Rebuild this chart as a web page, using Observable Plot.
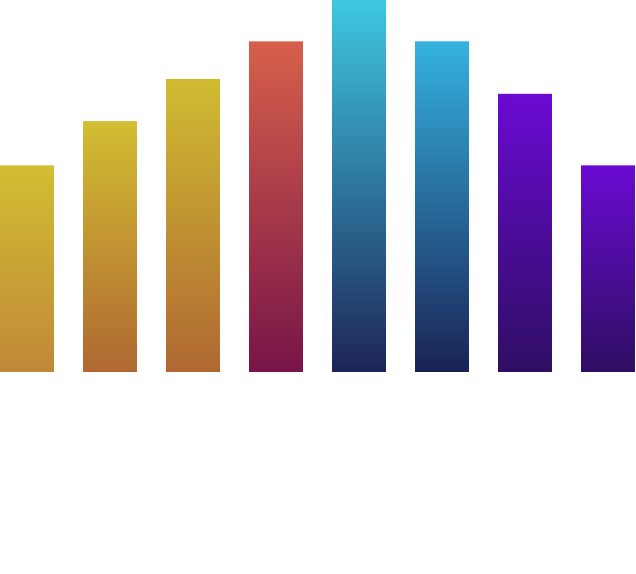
<!DOCTYPE html>
<html>
<head>
<meta charset="utf-8">
<script src="https://cdn.jsdelivr.net/npm/d3@7"></script>
<script src="https://cdn.jsdelivr.net/npm/@observablehq/plot@0.6"></script>
<style>
  html, body { margin: 0; padding: 0; background: #fff; }
</style>
</head>
<body>
<div id="chart"></div>
<script>
const categories = ["A", "B", "C", "D", "E", "F", "G", "H"];
const values = [5, 6.07, 7.09, 8, 9, 8, 6.73, 5];
const topColors = ["#d2be32", "#d2be32", "#d0bc32", "#d6604a", "#3ec8e0", "#34b2e0", "#6a0ad2", "#6a0ad2"];
const bottomColors = ["#c08838", "#b06832", "#b06832", "#781448", "#1e2458", "#1a2254", "#2e0e62", "#2e0e62"];

const data = categories.map((c, i) => ({cat: c, value: values[i], idx: i}));

function gradientDefs() {
  const defs = d3.create("svg:defs");
  categories.forEach((c, i) => {
    const g = defs.append("linearGradient")
      .attr("id", "grad" + i)
      .attr("x1", 0).attr("y1", 0).attr("x2", 0).attr("y2", 1);
    g.append("stop").attr("offset", "0%").attr("stop-color", topColors[i]);
    g.append("stop").attr("offset", "100%").attr("stop-color", bottomColors[i]);
  });
  return defs.node();
}

const chart = Plot.plot({
  width: 636,
  height: 372,
  marginTop: 0,
  marginRight: 0,
  marginBottom: 0,
  marginLeft: 0,
  x: {domain: categories, range: [-0.5, 634.5], paddingInner: 0.35, paddingOuter: 0, axis: null},
  y: {domain: [0, 9], axis: null},
  color: {type: "identity"},
  marks: [
    gradientDefs,
    Plot.barY(data, {x: "cat", y: "value", fill: d => `url(#grad${d.idx})`})
  ]
});
document.getElementById("chart").appendChild(chart);
</script>
</body>
</html>
